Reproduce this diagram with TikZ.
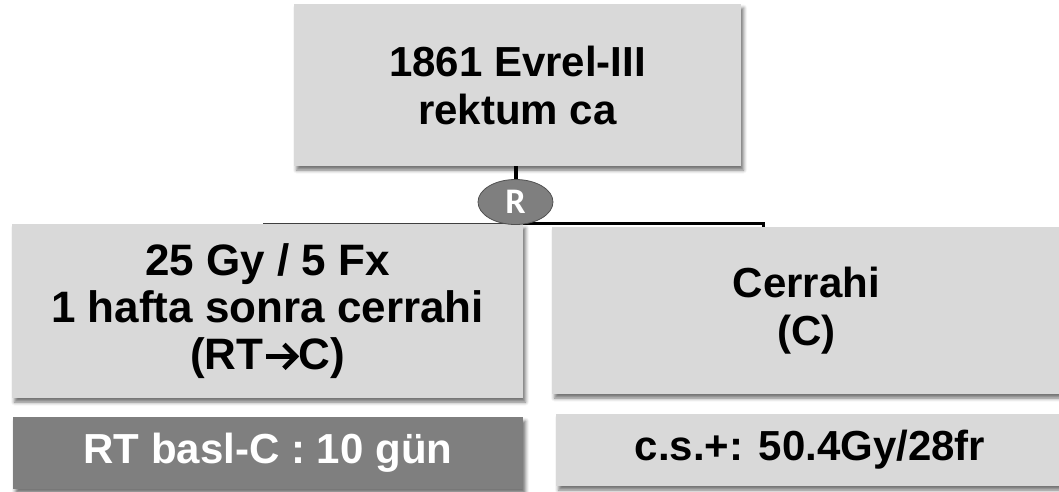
\documentclass[tikz,border=0pt]{standalone}
\usepackage{fontspec}
\setmainfont{Liberation Sans}
\newfontfamily\labelfont{Carlito}
\usetikzlibrary{shapes.geometric,shadows.blur,backgrounds}
\definecolor{boxgray}{HTML}{D9D9D9}
\definecolor{midgray}{HTML}{7F7F7F}
\definecolor{edgegray}{HTML}{505050}

% bold arrow with an open chevron head, set inline with the text
\newcommand\chevarrow{\tikz[baseline=0pt]{%
  \draw[line width=4.8pt] (1pt,13pt) -- (30pt,13pt);
  \draw[line width=4.8pt, line join=miter, miter limit=4] (19pt,25pt) -- (31pt,13pt) -- (19pt,1pt);}}

\tikzset{
  box/.style={rectangle, fill=boxgray, inner sep=0pt, align=center,
    font=\fontsize{42}{48}\selectfont\bfseries,
    blur shadow={shadow xshift=2.5pt, shadow yshift=-4pt, shadow blur radius=3.5pt, shadow opacity=55}},
  darkbox/.style={box, fill=midgray, text=white},
  badge/.style={ellipse, fill=midgray, draw=edgegray, line width=0.8pt, inner sep=0pt,
    minimum width=75, minimum height=45, text=white,
    font={\labelfont\bfseries\fontsize{36}{36}\selectfont}},
  stem/.style={line width=3.5pt, black},
  busleft/.style={line width=1.5pt, edgegray!80!black},
  busright/.style={line width=2.5pt, black}
}

\begin{document}
\begin{tikzpicture}[x=1pt, y=-1pt]
  \useasboundingbox (0,0) rectangle (1059,491);
  \clip (0,0) rectangle (1059,491);

  % trial arm boxes
  \node[box, minimum width=447, minimum height=162] (T) at (517.5,85) {1861 Evrel-III\\rektum ca};
  \node[box, minimum width=511, minimum height=174, font=\fontsize{44}{47}\selectfont\bfseries] (L) at (267.5,311) {25 Gy / 5 Fx\\1 hafta sonra cerrahi\\(RT\chevarrow C)};
  \node[box, minimum width=509, minimum height=167] (C) at (806.5,310.5) {Cerrahi\\(C)};
  \node[darkbox, minimum width=510, minimum height=72] (LB) at (268,453) {RT basl-C : 10 gün};
  \node[box, minimum width=508, minimum height=72] (CB) at (810,450) {c.s.+: 50.4Gy/28fr};

  % randomisation bus
  \coordinate (bus) at (516,223.5);
  \begin{pgfonlayer}{background}
    \draw[stem] (T.south -| bus) -- (bus);
    \draw[busleft] (bus) -| ([xshift=-3.5pt]L.north);
    \draw[busright] (bus) -| ([xshift=-43pt]C.north);
  \end{pgfonlayer}

  \node[badge] (R) at (515.5,202) {R};
\end{tikzpicture}
\end{document}
